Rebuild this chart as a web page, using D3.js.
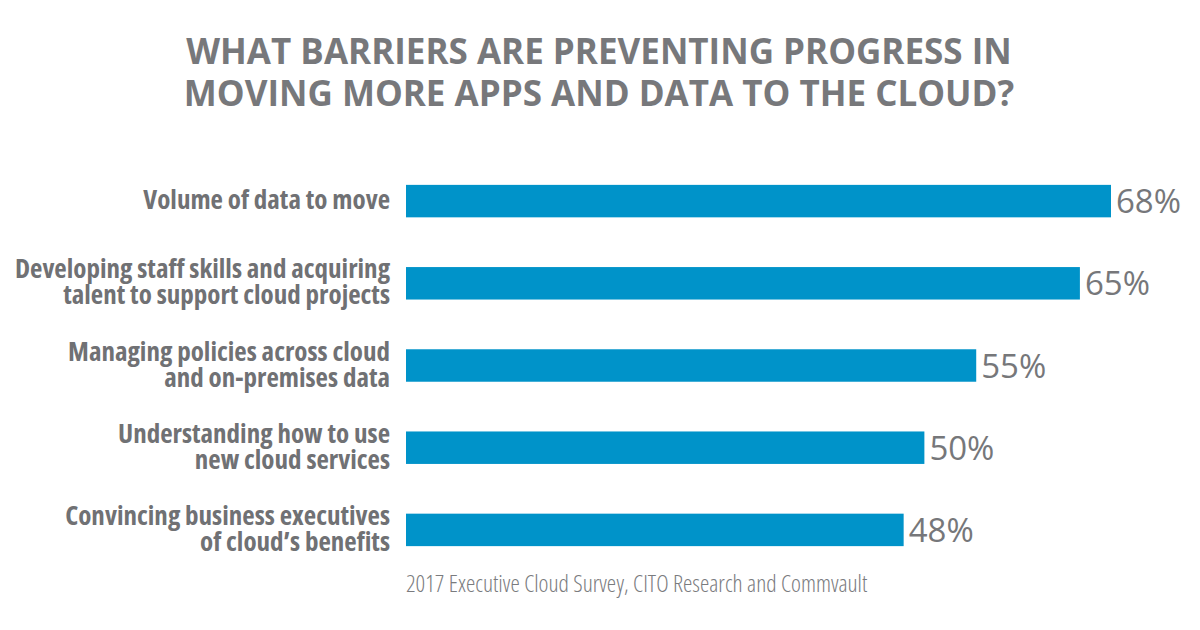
<!DOCTYPE html>
<html>
<head>
<meta charset="utf-8">
<script src="https://cdn.jsdelivr.net/npm/d3@7"></script>
<style>
  body { margin: 0; background: #fff; }
  .title { font-family: "Open Sans", sans-serif; font-weight: 700; fill: #77787b; }
  .cat { font-family: "Open Sans", sans-serif; font-weight: 700; font-stretch: condensed; fill: #707174; }
  .val { font-family: "Open Sans", sans-serif; font-weight: 400; fill: #76777a; }
  .src { font-family: "Open Sans", sans-serif; font-weight: 300; font-stretch: condensed; fill: #7a7b7e; }
</style>
</head>
<body>
<div id="chart"></div>
<script>
var titleLines = ["WHAT BARRIERS ARE PREVENTING PROGRESS IN", "MOVING MORE APPS AND DATA TO THE CLOUD?"];
var categories = [
    ["Volume of data to move"],
    ["Developing staff skills and acquiring", "talent to support cloud projects"],
    ["Managing policies across cloud", "and on-premises data"],
    ["Understanding how to use", "new cloud services"],
    ["Convincing business executives", "of cloud\u2019s benefits"]
];
var values = [68, 65, 55, 50, 48];
var source = "2017 Executive Cloud Survey, CITO Research and Commvault";

var width = 1200, height = 630;
var svg = d3.select("#chart")
    .append('svg')
    .attr('width', width)
    .attr('height', height);

svg.selectAll('text.title')
    .data(titleLines)
    .enter()
    .append('text')
    .attr('class', 'title')
    .attr('x', 599)
    .attr('y', function(d, i) { return 64 + i * 42; })
    .attr('text-anchor', 'middle')
    .style('font-size', '35px')
    .text(function(d) { return d; });

// bars start at 406, scale fitted to the drawn bar ends
var x = d3.scaleLinear().domain([0, 68]).range([406, 1111]);
var y = d3.scaleBand()
    .domain(d3.range(values.length))
    .range([160, 571])
    .paddingInner(0.605)
    .paddingOuter(0.3025);

var rows = svg.selectAll('g.row')
    .data(values)
    .enter()
    .append('g')
    .attr('class', 'row');

rows.append('rect')
    .attr('x', x(0))
    .attr('y', function(d, i) { return y(i); })
    .attr('width', function(d) { return x(d) - x(0); })
    .attr('height', y.bandwidth())
    .attr('fill', '#0093c9');

rows.append('text')
    .attr('class', 'val')
    .attr('x', function(d) { return x(d) + 5; })
    .attr('y', function(d, i) { return y(i) + y.bandwidth() / 2 + 12; })
    .style('font-size', '33px')
    .text(function(d) { return d + '%'; });

// two-line labels, one text per line
rows.each(function(d, i) {
    var lines = categories[i];
    var mid = y(i) + y.bandwidth() / 2;
    d3.select(this).selectAll('text.cat')
        .data(lines)
        .enter()
        .append('text')
        .attr('class', 'cat')
        .attr('text-anchor', 'end')
        .attr('x', 390)
        .attr('y', function(line, j) { return mid + 8 + (j - (lines.length - 1) / 2) * 26; })
        .style('font-size', '27px')
        .text(function(line) { return line; });
});

svg.append('text')
    .attr('class', 'src')
    .attr('x', 406)
    .attr('y', 592)
    .style('font-size', '23.6px')
    .text(source);
</script>
</body>
</html>
